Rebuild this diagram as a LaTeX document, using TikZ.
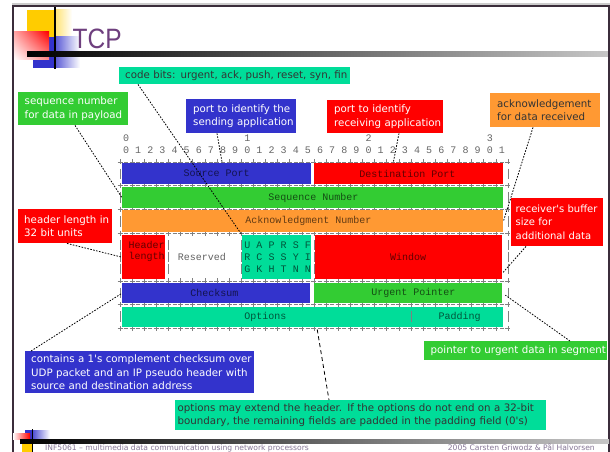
\documentclass[tikz,border=0pt]{standalone}
\usepackage{fontspec}
\usetikzlibrary{shadings}
\newfontfamily\calloutfont{DejaVu Sans}
\newfontfamily\asciifont{Liberation Mono}
\newfontfamily\titlefont{Liberation Sans}
\definecolor{cblue}{HTML}{3333CC}
\definecolor{cred}{HTML}{FF0000}
\definecolor{cgreen}{HTML}{33CC33}
\definecolor{corange}{HTML}{FF9933}
\definecolor{cteal}{HTML}{00DD99}
\definecolor{cyellow}{HTML}{FFCC00}
\definecolor{framec}{HTML}{3B2D3B}
\definecolor{titlec}{HTML}{6E3F7E}
\definecolor{footc}{HTML}{857595}
\definecolor{darktext}{HTML}{333333}
\newcommand{\onel}[1]{\mbox{#1}}
\tikzset{
  fieldbox/.style={inner sep=0pt, anchor=north west, draw=none},
  fieldlabel/.style={inner sep=0pt, font=\asciifont\fontsize{10}{11.9}\selectfont, text=black, text opacity=0.62},
  bitnum/.style={inner sep=0pt, font=\asciifont\fontsize{10}{11.9}\selectfont, text=black!60},
  callout/.style={anchor=north west, inner ysep=0pt, align=left, font=\calloutfont\fontsize{10.25}{13.3}\selectfont},
  link/.style={black, line width=0.8pt, dash pattern=on 1.6pt off 1.4pt},
  longlink/.style={black, line width=0.8pt, dash pattern=on 4pt off 3pt},
  gridrule/.style={black!50, line width=0.6pt},
  sepbar/.style={black!50, line width=0.7pt},
}
\begin{document}
\begin{tikzpicture}[x=1pt,y=-1pt]
\useasboundingbox (0,0) rectangle (610,452);
\fill[white] (0,0) rectangle (610,452);
% ---- top logo
\fill[cyellow] (27,10) rectangle (55,37);
\shade[left color=cyellow!55, right color=white] (55,10) rectangle (72,37);
\fill[cblue] (33,37) rectangle (54,68);
\shade[left color=cblue!85, right color=white] (54,37) rectangle (80,68);
\shade[upper left=red!35, upper right=red, lower left=white, lower right=red!45] (14,32) rectangle (49,60);
\fill[black] (54,5) rectangle (55.7,69);
\shade[left color=black, middle color=black!40, right color=black!22] (27,52) rectangle (609,56.5);
% ---- frame
\fill[black!20] (12,3.5) rectangle (610,5);
\fill[framec] (12,5) rectangle (610,7);
\fill[framec] (12,5) rectangle (14,452);
\fill[framec] (608.3,5) rectangle (610,452);
% ---- title
\node[anchor=base west, inner sep=0pt, text=titlec, font=\titlefont\fontsize{28}{28}\selectfont] (title) at (72.5,48.3) {\scalebox{0.875}[1]{TCP}};
% ---- bottom logo and footer
\fill[cblue] (25,430) rectangle (33,439);
\shade[left color=cblue!85, right color=white] (33,430) rectangle (50,439);
\shade[left color=white, right color=red] (13,433) rectangle (30,439);
\fill[cyellow] (21.7,443) rectangle (31.7,452);
\shade[left color=black, middle color=black!40, right color=black!22] (20,439) rectangle (609,443);
\fill[black] (31.8,429) rectangle (33.3,452);
\node[anchor=base west, inner sep=0pt, text=footc, font=\calloutfont\fontsize{7.6}{8}\selectfont] (foot1) at (45,450.2) {INF5061 – multimedia data communication using network processors};
\node[anchor=base east, inner sep=0pt, text=footc, font=\calloutfont\fontsize{7.6}{8}\selectfont] (foot2) at (595,450.2) {2005 Carsten Griwodz \& Pål Halvorsen};
% ---- bit numbers
\node[bitnum] (ten0) at (126.06,138) {0};
\node[bitnum] (ten1) at (247.31,138) {1};
\node[bitnum] (ten2) at (368.56,138) {2};
\node[bitnum] (ten3) at (489.81,138) {3};
\foreach \k in {0,...,31} {
  \pgfmathtruncatemacro\d{mod(\k,10)}
  \node[bitnum] (bit\k) at ({126.06+12.125*\k},149.9) {\d};
}
% ---- grid rules
\foreach \n in {2,4,6,8,12,14,16} {
  \draw[gridrule, dash pattern=on 5pt off 1.56pt on 4pt off 1.56pt] (117.5,{138+11.9*\n}) -- (510.5,{138+11.9*\n});
  \foreach \k in {0,...,32} \draw[gridrule] ({120+12.125*\k},{138+11.9*\n-2.5}) -- ++(0,5);
}
\foreach \n/\ks in {3/{0,16,32}, 5/{0,32}, 7/{0,32}, 9/{0,4,10,11,12,13,14,15,16,32}, 10/{0,4,10,11,12,13,14,15,16,32}, 11/{0,4,10,11,12,13,14,15,16,32}, 13/{0,16,32}, 15/{0,24,32}} {
  \foreach \k in \ks \draw[sepbar] ({120+12.125*\k},{138+11.9*\n-5.2}) -- ++(0,10.4);
}
% ---- field fills
\node[fieldbox, fill=cblue, minimum width=189pt, minimum height=21pt] (srcport) at (122,163) {};
\node[fieldbox, fill=cred, minimum width=189pt, minimum height=21pt] (dstport) at (314,163) {};
\node[fieldbox, fill=cgreen, minimum width=381pt, minimum height=21pt] (seqnum) at (122,187) {};
\node[fieldbox, fill=corange, minimum width=381pt, minimum height=22pt] (acknum) at (122,210) {};
\node[fieldbox, fill=cred, minimum width=43pt, minimum height=44pt] (hdrlen) at (122,235) {};
\node[fieldbox, fill=cteal, minimum width=69pt, minimum height=44pt] (flags) at (242,235) {};
\node[fieldbox, fill=cred, minimum width=187pt, minimum height=44pt] (window) at (315,235) {};
\node[fieldbox, fill=cblue, minimum width=188pt, minimum height=20pt] (checksum) at (122,283) {};
\node[fieldbox, fill=cgreen, minimum width=188pt, minimum height=20pt] (urgent) at (314,283) {};
\node[fieldbox, fill=cteal, minimum width=381pt, minimum height=20pt] (options) at (122,307) {};
\draw[sepbar] (411.0,311.3) -- ++(0,10.4);
% ---- field labels
\node[fieldlabel] (lsrc) at (216.7,173.7) {Source Port};
\node[fieldlabel] (ldst) at (407.5,173.7) {Destination Port};
\node[fieldlabel] (lseq) at (313.5,197.5) {Sequence Number};
\node[fieldlabel] (lack) at (308.5,221.3) {Acknowledgment Number};
\node[fieldlabel, anchor=west] (lhdr1) at (128.5,245.1) {Header};
\node[fieldlabel, anchor=west] (lhdr2) at (128.5,257) {length};
\node[fieldlabel] (lres) at (202,257) {Reserved};
\node[fieldlabel] (lwin) at (408,257) {Window};
\node[fieldlabel] (lcs) at (214.5,292.7) {Checksum};
\node[fieldlabel] (lurg) at (413.5,292.7) {Urgent Pointer};
\node[fieldlabel] (lopt) at (265.5,316.5) {Options};
\node[fieldlabel] (lpad) at (459.5,316.5) {Padding};
\foreach \k/\a/\b/\c in {10/U/R/G, 11/A/C/K, 12/P/S/H, 13/R/S/T, 14/S/Y/N, 15/F/I/N} {
  \node[fieldlabel] (fa\k) at ({126.06+12.125*\k},245.1) {\a};
  \node[fieldlabel] (fb\k) at ({126.06+12.125*\k},257) {\b};
  \node[fieldlabel] (fc\k) at ({126.06+12.125*\k},268.9) {\c};
}
% ---- callouts
\node[callout, fill=cteal, text=darktext, inner xsep=6pt, text width=219pt, minimum height=17pt] (cb) at (119,67) {\onel{code bits: urgent, ack, push, reset, syn, fin}};
\node[callout, fill=cgreen, text=white, inner xsep=6.5pt, text width=97pt, minimum height=33pt] (seqc) at (18,92) {\onel{sequence number}\\\onel{for data in payload}};
\node[callout, fill=cblue, text=white, inner xsep=7pt, text width=96pt, minimum height=34pt] (sendc) at (186,99) {\onel{port to identify the}\\\onel{sending application}};
\node[callout, fill=cred, text=white, inner xsep=7pt, text width=102pt, minimum height=33pt] (recvc) at (327,100) {\onel{port to identify}\\\onel{receiving application}};
\node[callout, fill=corange, text=darktext, inner xsep=7pt, text width=96pt, minimum height=34pt] (ackc) at (490,93) {\onel{acknowledgement}\\\onel{for data received}};
\node[callout, fill=cred, text=white, inner xsep=6pt, text width=82pt, minimum height=34pt] (hdrc) at (18,209) {\onel{header length in}\\\onel{32 bit units}};
\node[callout, fill=cred, text=white, inner xsep=4.5pt, text width=83pt, minimum height=48pt, font=\calloutfont\fontsize{10}{13.3}\selectfont] (bufc) at (511,198) {\onel{receiver's buffer}\\\onel{size for}\\\onel{additional data}};
\node[callout, fill=cblue, text=white, inner xsep=6pt, text width=217pt, minimum height=42pt] (csc) at (25,351) {\onel{contains a 1's complement checksum over}\\\onel{UDP packet and an IP pseudo header with}\\\onel{source and destination address}};
\node[callout, fill=cgreen, text=white, inner xsep=6.5pt, text width=170pt, minimum height=19pt] (ptrc) at (424,341) {\onel{pointer to urgent data in segment}};
\node[callout, fill=cteal, text=darktext, inner xsep=2.5pt, text width=366pt, minimum height=30pt] (optc) at (175,400) {\onel{options may extend the header. If the options do not end on a 32-bit}\\\onel{boundary, the remaining fields are padded in the padding field (0's)}};
% ---- connectors
\draw[link] ([xshift=19pt]cb.south west) -- (flags.north west);
\draw[link] ([xshift=57pt]seqc.south west) -- (seqnum.west);
\draw[link] ([xshift=31pt]sendc.south west) -- ([xshift=5.5pt]srcport.north);
\draw[link] ([xshift=72pt]recvc.south west) -- ([xshift=-15.5pt]dstport.north);
\draw[link] ([xshift=43pt]ackc.south west) -- (acknum.east);
\draw[link] ([xshift=49pt]hdrc.south west) -- (hdrlen.west);
\draw[link] ([xshift=15pt]bufc.south west) -- ([yshift=-16pt]window.east);
\draw[link] ([xshift=6pt]csc.north west) -- (checksum.west);
\draw[link] ([xshift=146pt]ptrc.north west) -- ([xshift=3pt,yshift=-2pt]urgent.east);
\draw[longlink] ([xshift=4.5pt,yshift=-2pt]options.south) -- ([xshift=154pt]optc.north west);
\end{tikzpicture}
\end{document}
